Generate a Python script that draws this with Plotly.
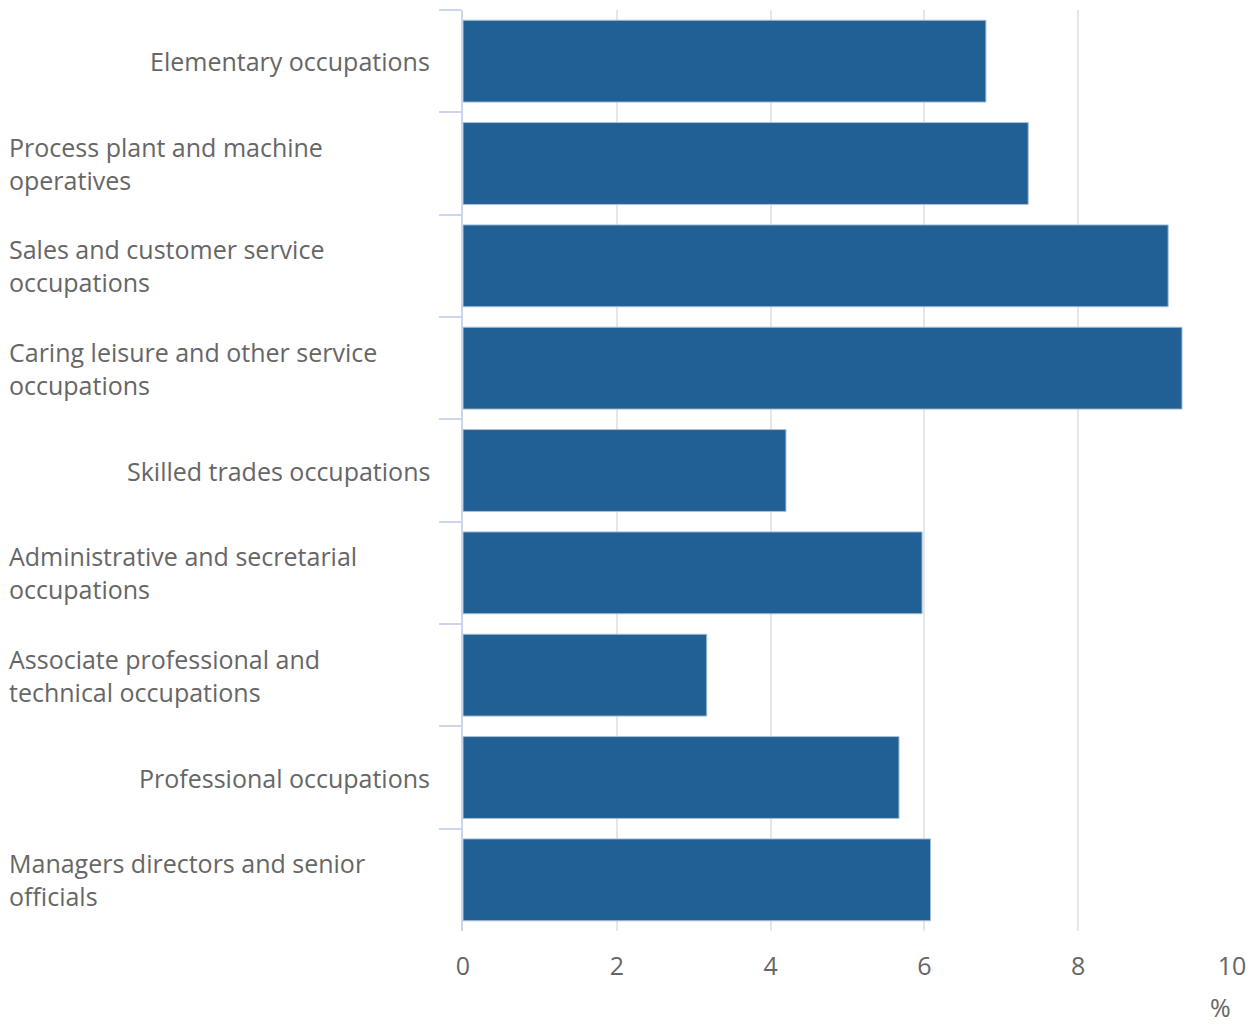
import plotly.graph_objects as go

categories = [
    "Elementary occupations",
    "Process plant and machine<br>operatives",
    "Sales and customer service<br>occupations",
    "Caring leisure and other service<br>occupations",
    "Skilled trades occupations",
    "Administrative and secretarial<br>occupations",
    "Associate professional and<br>technical occupations",
    "Professional occupations",
    "Managers directors and senior<br>officials",
]
values = [6.8, 7.35, 9.17, 9.35, 4.2, 5.97, 3.17, 5.67, 6.08]
x_ticks = [0, 2, 4, 6, 8, 10]

FONT = "Open Sans"
TXT = "#666666"
FS = 25

fig = go.Figure()
fig.add_trace(go.Bar(
    y=categories, x=values, orientation="h",
    marker=dict(color="#206095", line=dict(color="#a9c0d6", width=1)),
    hoverinfo="x+y",
))

annotations = []
for c in categories:
    multi = "<br>" in c
    annotations.append(dict(
        x=0, xref="paper", y=c, yref="y",
        text=c, showarrow=False,
        xanchor="left" if multi else "right",
        align="left" if multi else "right",
        xshift=-456 if multi else -31,
        font=dict(family=FONT, size=FS, color=TXT),
    ))
annotations.append(dict(
    x=1, xref="paper", y=0, yref="paper", text="%", showarrow=False,
    xanchor="right", yanchor="middle", xshift=0, yshift=-76,
    borderpad=0,
    font=dict(family=FONT, size=FS, color=TXT),
))

fig.update_layout(
    width=1255, height=1025,
    margin=dict(l=463, r=23, t=10, b=94),
    plot_bgcolor="white", paper_bgcolor="white",
    bargap=0.2, showlegend=False,
    font=dict(family=FONT, size=FS, color=TXT),
    annotations=annotations,
    xaxis=dict(
        range=[0, 10], tickvals=x_ticks, showgrid=True, gridcolor="#e6e6e6",
        gridwidth=2, zeroline=False, showline=False, ticks="",
        tickfont=dict(family=FONT, size=FS, color=TXT), ticklabelstandoff=18,
    ),
    yaxis=dict(
        autorange="reversed", showticklabels=False, showgrid=False,
        showline=True, linecolor="#ccd6eb", linewidth=2,
        ticks="outside", tickson="boundaries", ticklen=22, tickcolor="#ccd6eb", tickwidth=2,
    ),
)

fig.write_html("out.html")
